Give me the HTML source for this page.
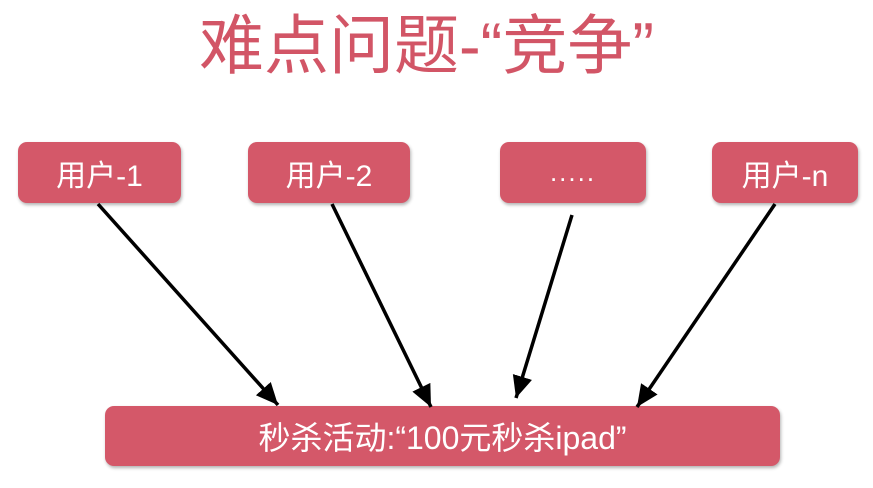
<!DOCTYPE html>
<html><head><meta charset="utf-8"><style>
html,body{margin:0;padding:0;background:#fff;}
body{width:873px;height:488px;position:relative;overflow:hidden;font-family:"Liberation Sans","Noto Sans CJK SC",sans-serif;}
.t{position:absolute;left:-10px;width:873px;top:6px;text-align:center;color:#d25566;font-size:65px;line-height:80px;font-family:"Liberation Sans","Noto Sans CJK SC",sans-serif;}
.b{position:absolute;background:#d45869;border-radius:9px;color:#fff;font-size:30px;display:flex;align-items:center;justify-content:center;box-shadow:1px 2px 3px rgba(0,0,0,0.3);}
svg{position:absolute;left:0;top:0;}
</style></head><body>
<div class="t">难点问题-“竞争”</div>
<div class="b" style="left:18px;top:142px;width:163px;height:61px;">用户-1</div>
<div class="b" style="left:248px;top:142px;width:162px;height:61px;">用户-2</div>
<div class="b" style="left:500px;top:142px;width:146px;height:61px;font-size:26px;letter-spacing:2px;">.....</div>
<div class="b" style="left:712px;top:142px;width:146px;height:61px;">用户-n</div>
<div class="b" style="left:105px;top:406px;width:675px;height:60px;font-size:32px;">秒杀活动:“100元秒杀ipad”</div>
<svg width="873" height="488">
<defs><marker id="a" markerUnits="userSpaceOnUse" markerWidth="24" markerHeight="22" refX="22" refY="10" orient="auto"><path d="M0,0 L22,10 L0,20 z" fill="#000"/></marker></defs>
<g stroke="#000" stroke-width="3.5" fill="none">
<line x1="98" y1="204" x2="278" y2="405" marker-end="url(#a)"/>
<line x1="332" y1="204" x2="431" y2="407" marker-end="url(#a)"/>
<line x1="572" y1="215" x2="516" y2="398" marker-end="url(#a)"/>
<line x1="775" y1="204" x2="637" y2="407" marker-end="url(#a)"/>
</g>
</svg>
</body></html>
